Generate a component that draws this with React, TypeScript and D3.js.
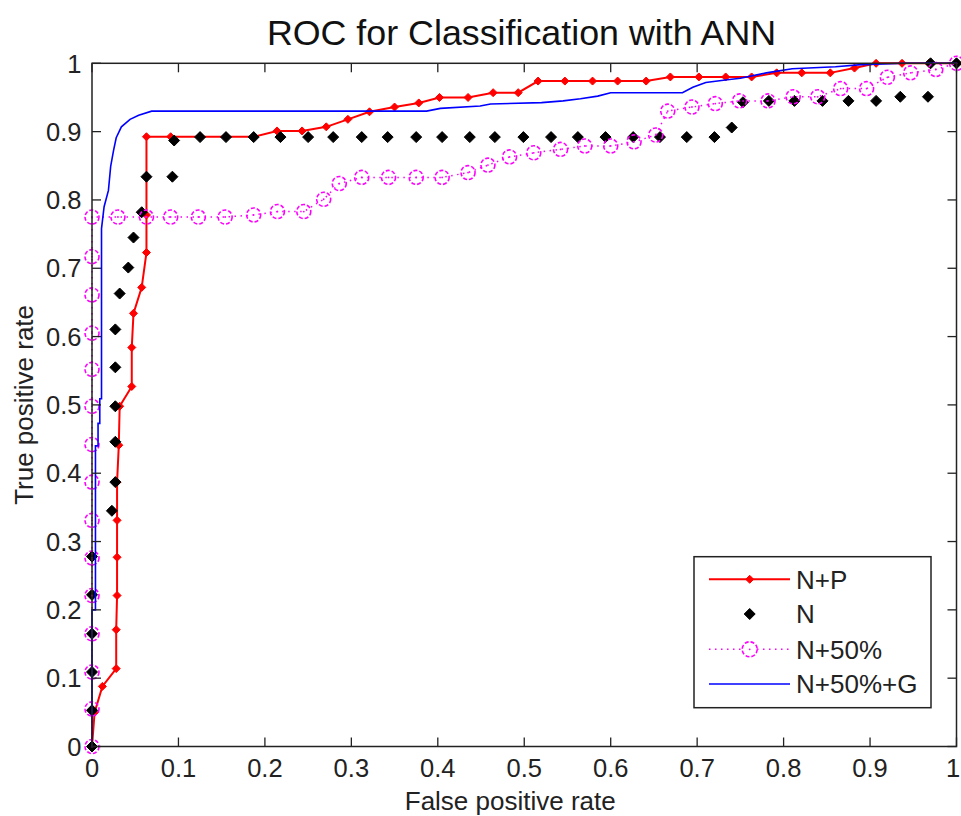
import React, { useEffect, useRef } from "react";
import * as d3 from "d3";

const xTicks = [0, 0.1, 0.2, 0.3, 0.4, 0.5, 0.6, 0.7, 0.8, 0.9, 1];
const yTicks = [0, 0.1, 0.2, 0.3, 0.4, 0.5, 0.6, 0.7, 0.8, 0.9, 1];
const xTickLabels = ["0", "0.1", "0.2", "0.3", "0.4", "0.5", "0.6", "0.7", "0.8", "0.9", "1"];
const yTickLabels = ["0", "0.1", "0.2", "0.3", "0.4", "0.5", "0.6", "0.7", "0.8", "0.9", "1"];

const seriesNames = ["N+P", "N", "N+50%", "N+50%+G"];

// N+P (red line with diamond markers)
const npX = [0, 0.003, 0.012, 0.028, 0.028, 0.029, 0.029, 0.029, 0.029, 0.031, 0.032, 0.046, 0.046, 0.048, 0.0575, 0.063, 0.063, 0.063, 0.091, 0.125, 0.155, 0.187, 0.214, 0.243, 0.271, 0.296, 0.321, 0.35, 0.378, 0.402, 0.435, 0.464, 0.493, 0.516, 0.547, 0.579, 0.608, 0.641, 0.669, 0.702, 0.733, 0.763, 0.792, 0.821, 0.854, 0.882, 0.907, 0.937, 0.968, 1.0];
const npY = [0, 0.05, 0.088, 0.114, 0.171, 0.221, 0.277, 0.331, 0.387, 0.441, 0.498, 0.527, 0.584, 0.634, 0.672, 0.723, 0.778, 0.8925, 0.8925, 0.8925, 0.8925, 0.8925, 0.901, 0.901, 0.907, 0.918, 0.929, 0.936, 0.942, 0.95, 0.95, 0.957, 0.957, 0.974, 0.974, 0.974, 0.974, 0.974, 0.98, 0.98, 0.98, 0.98, 0.986, 0.986, 0.986, 0.993, 1.0, 1.0, 1.0, 1.0];

// N (black diamonds only)
const nX = [0, 0, 0, 0, 0, 0, 0.023, 0.027, 0.027, 0.027, 0.027, 0.027, 0.032, 0.042, 0.048, 0.0575, 0.063, 0.093, 0.095, 0.125, 0.155, 0.187, 0.218, 0.25, 0.279, 0.312, 0.342, 0.375, 0.405, 0.437, 0.466, 0.499, 0.531, 0.562, 0.594, 0.626, 0.657, 0.688, 0.72, 0.74, 0.753, 0.783, 0.8125, 0.845, 0.875, 0.907, 0.935, 0.967, 0.97, 1.0];
const nY = [0, 0.053, 0.109, 0.165, 0.222, 0.278, 0.345, 0.387, 0.446, 0.498, 0.555, 0.6105, 0.663, 0.701, 0.745, 0.782, 0.834, 0.834, 0.887, 0.892, 0.892, 0.892, 0.892, 0.892, 0.892, 0.892, 0.892, 0.892, 0.892, 0.892, 0.892, 0.892, 0.892, 0.892, 0.892, 0.892, 0.892, 0.892, 0.892, 0.906, 0.943, 0.945, 0.945, 0.945, 0.945, 0.945, 0.951, 0.951, 1.0, 1.0];

// N+50% (magenta dotted line with circles)
const n50X = [0, 0, 0, 0, 0, 0, 0, 0, 0, 0, 0, 0, 0, 0, 0, 0.03, 0.063, 0.091, 0.123, 0.154, 0.187, 0.2145, 0.245, 0.268, 0.286, 0.312, 0.343, 0.375, 0.405, 0.435, 0.458, 0.483, 0.511, 0.542, 0.57, 0.6, 0.627, 0.652, 0.666, 0.694, 0.721, 0.749, 0.782, 0.811, 0.8395, 0.866, 0.896, 0.92, 0.947, 0.976, 1.0];
const n50Y = [0, 0.055, 0.109, 0.165, 0.221, 0.276, 0.331, 0.387, 0.442, 0.498, 0.552, 0.605, 0.661, 0.717, 0.775, 0.775, 0.775, 0.775, 0.775, 0.775, 0.778, 0.783, 0.783, 0.801, 0.824, 0.833, 0.833, 0.833, 0.833, 0.84, 0.851, 0.863, 0.869, 0.874, 0.879, 0.879, 0.885, 0.895, 0.93, 0.936, 0.941, 0.945, 0.945, 0.951, 0.951, 0.963, 0.963, 0.9795, 0.986, 0.991, 1.0];

// N+50%+G (blue line only)
const gX = [0, 0, 0.004, 0.004, 0.007, 0.007, 0.009, 0.009, 0.011, 0.011, 0.014, 0.019, 0.0216, 0.025, 0.028, 0.034, 0.044, 0.054, 0.069, 0.387, 0.403, 0.449, 0.461, 0.52, 0.545, 0.565, 0.585, 0.6, 0.683, 0.695, 0.71, 0.735, 0.75, 0.78, 0.81, 0.86, 0.89, 0.94, 1.0];
const gY = [0, 0.2, 0.2, 0.44, 0.44, 0.473, 0.473, 0.509, 0.509, 0.758, 0.79, 0.814, 0.849, 0.873, 0.891, 0.907, 0.918, 0.924, 0.93, 0.93, 0.934, 0.9375, 0.9405, 0.9425, 0.945, 0.948, 0.952, 0.957, 0.957, 0.965, 0.972, 0.976, 0.978, 0.986, 0.992, 0.995, 0.998, 1.0, 1.0];

const FONT = "'Liberation Sans', Arial, Helvetica, sans-serif";

export default function App() {
  const ref = useRef<SVGSVGElement | null>(null);

  useEffect(() => {
    const svg = d3.select(ref.current);
    svg.selectAll("*").remove();

    const L = 92, R = 956.5, T = 63.3, B = 746.5;
    const x = d3.scaleLinear().domain([0, 1]).range([L, R]);
    const y = d3.scaleLinear().domain([0, 1]).range([B, T]);

    svg.append("rect").attr("width", 961).attr("height", 816).attr("fill", "#fff");

    const diamond = (cx: number, cy: number, h: number) =>
      `M${cx},${cy - h}L${cx + h},${cy}L${cx},${cy + h}L${cx - h},${cy}Z`;

    const zip = (xs: number[], ys: number[]) => xs.map((v, i) => [v, ys[i]] as [number, number]);
    const line = d3.line<[number, number]>().x((d) => x(d[0])).y((d) => y(d[1]));

    const plot = svg.append("g");

    // N+P
    const np = zip(npX, npY);
    plot.append("path").attr("d", line(np)).attr("fill", "none").attr("stroke", "#ff0000").attr("stroke-width", 2);
    plot.selectAll(".npm").data(np).enter().append("path")
      .attr("d", (d) => diamond(x(d[0]), y(d[1]), 4)).attr("fill", "#ff0000").attr("stroke", "#ff0000").attr("stroke-width", 1);

    // N
    const n = zip(nX, nY);
    plot.selectAll(".nm").data(n).enter().append("path")
      .attr("d", (d) => diamond(x(d[0]), y(d[1]), 5.5)).attr("fill", "#000").attr("stroke", "#000").attr("stroke-width", 1);

    // N+50%
    const n50 = zip(n50X, n50Y);
    plot.append("path").attr("d", line(n50)).attr("fill", "none").attr("stroke", "#ff00ff")
      .attr("stroke-width", 1.5).attr("stroke-dasharray", "1.5 4.5");
    const cg = plot.selectAll(".cm").data(n50).enter().append("g");
    cg.append("circle").attr("cx", (d) => x(d[0])).attr("cy", (d) => y(d[1])).attr("r", 7)
      .attr("fill", "none").attr("stroke", "#ff00ff").attr("stroke-width", 1.6).attr("stroke-dasharray", "4 2");
    cg.append("circle").attr("cx", (d) => x(d[0])).attr("cy", (d) => y(d[1])).attr("r", 0.9).attr("fill", "#ff00ff");

    // N+50%+G
    const g = zip(gX, gY);
    plot.append("path").attr("d", line(g)).attr("fill", "none").attr("stroke", "#0000ff").attr("stroke-width", 1.6);

    // Axes box
    const ax = svg.append("g");
    ax.append("rect").attr("x", L).attr("y", T).attr("width", R - L).attr("height", B - T)
      .attr("fill", "none").attr("stroke", "#222").attr("stroke-width", 1.5);
    const tl = 9;
    xTicks.forEach((v, i) => {
      ax.append("line").attr("x1", x(v)).attr("x2", x(v)).attr("y1", B).attr("y2", B - tl).attr("stroke", "#222").attr("stroke-width", 1.3);
      ax.append("line").attr("x1", x(v)).attr("x2", x(v)).attr("y1", T).attr("y2", T + tl).attr("stroke", "#222").attr("stroke-width", 1.3);
      ax.append("text").attr("x", Math.min(x(v), 953)).attr("y", 777).attr("text-anchor", "middle")
        .attr("font-family", FONT).attr("font-size", 25.5).attr("fill", "#222").text(xTickLabels[i]);
    });
    yTicks.forEach((v, i) => {
      ax.append("line").attr("x1", L).attr("x2", L + tl).attr("y1", y(v)).attr("y2", y(v)).attr("stroke", "#222").attr("stroke-width", 1.3);
      ax.append("line").attr("x1", R).attr("x2", R - tl).attr("y1", y(v)).attr("y2", y(v)).attr("stroke", "#222").attr("stroke-width", 1.3);
      ax.append("text").attr("x", 81.5).attr("y", y(v) + 9.2).attr("text-anchor", "end")
        .attr("font-family", FONT).attr("font-size", 25.5).attr("fill", "#222").text(yTickLabels[i]);
    });

    // Labels and title
    svg.append("text").attr("x", 521.5).attr("y", 44.5).attr("text-anchor", "middle")
      .attr("font-family", FONT).attr("font-size", 35.8).attr("fill", "#111").text("ROC for Classification with ANN");
    svg.append("text").attr("x", (L + R) / 2 - 14).attr("y", 810).attr("text-anchor", "middle")
      .attr("font-family", FONT).attr("font-size", 26).attr("fill", "#222").text("False positive rate");
    svg.append("text").attr("transform", `translate(33,${(T + B) / 2}) rotate(-90)`).attr("text-anchor", "middle")
      .attr("font-family", FONT).attr("font-size", 26).attr("fill", "#222").text("True positive rate");

    // Legend
    const lg = svg.append("g");
    lg.append("rect").attr("x", 694).attr("y", 556.7).attr("width", 237).attr("height", 151)
      .attr("fill", "#fff").attr("stroke", "#222").attr("stroke-width", 1.5);
    const ly = [579.3, 614, 649.3, 684];
    const lx1 = 709, lx2 = 790, lm = 749.7;
    lg.append("line").attr("x1", lx1).attr("x2", lx2).attr("y1", ly[0]).attr("y2", ly[0]).attr("stroke", "#ff0000").attr("stroke-width", 2);
    lg.append("path").attr("d", diamond(lm, ly[0], 4)).attr("fill", "#ff0000").attr("stroke", "#ff0000");
    lg.append("path").attr("d", diamond(lm, ly[1], 5.5)).attr("fill", "#000").attr("stroke", "#000");
    lg.append("line").attr("x1", lx1).attr("x2", lx2).attr("y1", ly[2]).attr("y2", ly[2]).attr("stroke", "#ff00ff")
      .attr("stroke-width", 1.5).attr("stroke-dasharray", "1.5 4.5");
    lg.append("circle").attr("cx", lm).attr("cy", ly[2]).attr("r", 7.5).attr("fill", "#fff").attr("stroke", "#ff00ff")
      .attr("stroke-width", 1.6).attr("stroke-dasharray", "4 2");
    lg.append("circle").attr("cx", lm).attr("cy", ly[2]).attr("r", 0.9).attr("fill", "#ff00ff");
    lg.append("line").attr("x1", lx1).attr("x2", lx2).attr("y1", ly[3]).attr("y2", ly[3]).attr("stroke", "#0000ff").attr("stroke-width", 1.6);
    seriesNames.forEach((s, i) => {
      lg.append("text").attr("x", 796).attr("y", ly[i] + 9.3).attr("font-family", FONT).attr("font-size", 26)
        .attr("fill", "#222").text(s);
    });
  }, []);

  return (
    <svg
      ref={ref}
      width={961}
      height={816}
      style={{ position: "absolute", left: 0, top: 0, display: "block" }}
    />
  );
}
